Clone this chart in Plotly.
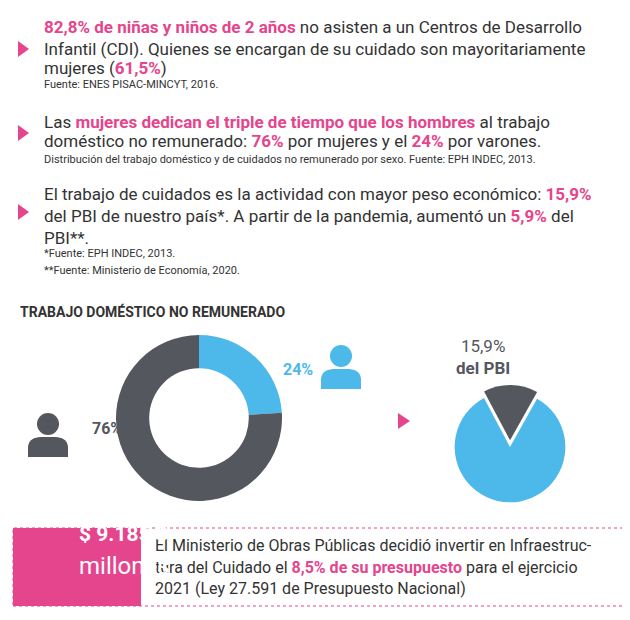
import plotly.graph_objects as go

W, H = 630, 620
PINK = "#e5458c"
BLUE = "#4cb9ea"
GRAY = "#54575e"
TXT = "#333333"

donut_labels = ["Varones", "Mujeres"]
donut_values = [24, 76]
pbi_labels = ["Cuidados", "Resto"]
pbi_values = [15.9, 84.1]


def px(x):
    return x / W


def py(y):
    return 1 - y / H


def pk(s):
    return f"<b><span style='color:{PINK}'>{s}</span></b>"


fig = go.Figure()
fig.add_trace(go.Pie(labels=donut_labels, values=donut_values, hole=0.6, sort=False,
                     direction="clockwise", rotation=0, textinfo="none", hoverinfo="skip",
                     marker=dict(colors=[BLUE, GRAY]),
                     domain=dict(x=[px(108), px(274)], y=[py(493), py(327)])))
fig.add_trace(go.Pie(labels=pbi_labels, values=pbi_values, sort=False,
                     direction="clockwise", rotation=-28, textinfo="none", hoverinfo="skip",
                     pull=[0.12, 0], marker=dict(colors=[GRAY, BLUE]),
                     domain=dict(x=[px(440), px(564)], y=[py(506), py(372)])))

lines = [
    (34, 19, 17, pk("82,8% de niñas y niños de 2 años") + " no asisten a un Centros de Desarrollo"),
    (34, 41, 17, "Infantil (CDI). Quienes se encargan de su cuidado son mayoritariamente"),
    (34, 60, 17, "mujeres (" + pk("61,5%") + ")"),
    (34, 77, 11, "Fuente: ENES PISAC-MINCYT, 2016."),
    (34, 114, 17, "Las " + pk("mujeres dedican el triple de tiempo que los hombres") + " al trabajo"),
    (34, 133, 17, "doméstico no remunerado: " + pk("76%") + " por mujeres y el " + pk("24%") + " por varones."),
    (34, 152, 11, "Distribución del trabajo doméstico y de cuidados no remunerado por sexo. Fuente: EPH INDEC, 2013."),
    (34, 186, 17, "El trabajo de cuidados es la actividad con mayor peso económico: " + pk("15,9%")),
    (34, 208, 17, "del PBI de nuestro país*. A partir de la pandemia, aumentó un " + pk("5,9%") + " del"),
    (34, 230, 17, "PBI**."),
    (34, 245, 11, "*Fuente: EPH INDEC, 2013."),
    (34, 262, 11, "**Fuente: Ministerio de Economía, 2020."),
    (10, 304, 14, "<b>TRABAJO DOMÉSTICO NO REMUNERADO</b>"),
    (145, 537, 16, "El Ministerio de Obras Públicas decidió invertir en Infraestruc-"),
    (145, 559, 16, "tura del Cuidado el " + pk("8,5% de su presupuesto") + " para el ejercicio"),
    (145, 580, 16, "2021 (Ley 27.591 de Presupuesto Nacional)"),
]
for x, y, s, t in lines:
    fig.add_annotation(x=px(x), y=py(y), xref="paper", yref="paper", text=t, showarrow=False,
                       xanchor="left", yanchor="middle", font=dict(size=s, color=TXT))

big = [
    (290, 361, "<b>24%</b>", 16, BLUE),
    (82, 432, "<b>76%</b>", 16, GRAY),
    (504, 349, "15,9%<br><b>del PBI</b>", 17, GRAY),
    (69, 540, "<b>$ 9.185,3</b>", 21, "white"),
    (69, 574, "millones", 24, "white"),
]
for x, y, t, s, c in big:
    fig.add_annotation(x=px(x), y=py(y), xref="paper", yref="paper", text=t, showarrow=False,
                       font=dict(size=s, color=c))

P = dict(xref="paper", yref="paper")
shapes = []
for ty in (41, 125, 204):
    shapes.append(dict(type="path", path=f"M {px(10)} {py(ty-8)} L {px(21)} {py(ty)} L {px(10)} {py(ty+8)} Z",
                       fillcolor=PINK, line_width=0, **P))
shapes.append(dict(type="path", path=f"M {px(390)} {py(405)} L {px(402)} {py(413)} L {px(390)} {py(421)} Z",
                   fillcolor=PINK, line_width=0, **P))
# iconos
for cx, cy, col in ((40, 416, GRAY), (333, 348, BLUE)):
    shapes.append(dict(type="circle", x0=px(cx-11), x1=px(cx+11), y0=py(cy+11), y1=py(cy-11),
                       fillcolor=col, line_width=0, **P))
    shapes.append(dict(type="path",
                       path=f"M {px(cx-20)} {py(cy+33)} L {px(cx-20)} {py(cy+24)} Q {px(cx-20)} {py(cy+14)} {px(cx-8)} {py(cy+13)} "
                            f"L {px(cx+8)} {py(cy+13)} Q {px(cx+20)} {py(cy+14)} {px(cx+20)} {py(cy+24)} L {px(cx+20)} {py(cy+33)} Z",
                       fillcolor=col, line_width=0, **P))
shapes.append(dict(type="rect", x0=px(5), x1=px(628), y0=py(598), y1=py(520),
                   line=dict(color=PINK, width=1, dash="dot"), **P))
shapes.append(dict(type="rect", x0=px(5), x1=px(133), y0=py(598), y1=py(520),
                   fillcolor=PINK, line_width=0, layer="below", **P))

fig.update_layout(width=W, height=H, margin=dict(l=0, r=0, t=0, b=0), showlegend=False,
                  paper_bgcolor="white", plot_bgcolor="white", shapes=shapes,
                  font=dict(family="Roboto"))
fig.update_xaxes(visible=False)
fig.update_yaxes(visible=False)
fig.write_html("out.html")
